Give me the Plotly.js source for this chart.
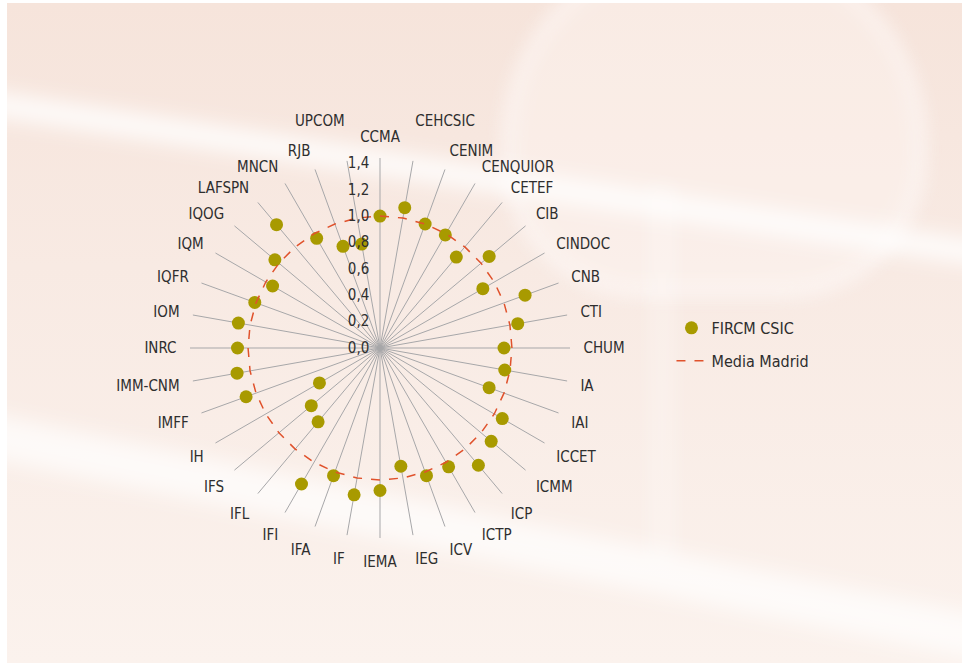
<!DOCTYPE html>
<html>
<head>
<meta charset="utf-8">
<script src="https://cdn.plot.ly/plotly-3.0.1.min.js"></script>
<style>
  html, body { margin:0; padding:0; background:#ffffff; }
  #wrap { position:relative; width:962px; height:663px; overflow:hidden; background:#ffffff; }
  #bg { position:absolute; left:7px; top:3px; right:0; bottom:0; overflow:hidden;
        background: linear-gradient(180deg, #f6e4db 0%, #f8eae3 40%, #fbf2ed 100%); }
  .streak { position:absolute; background:rgba(255,255,255,0.85); filter:blur(10px); transform-origin:0 0; }
  #dome { position:absolute; left:495px; top:-60px; width:400px; height:330px;
          border-radius:200px 200px 140px 140px; border:12px solid rgba(255,255,255,0.45);
          background:rgba(255,250,247,0.35); filter:blur(9px); }
  #column { position:absolute; left:640px; top:180px; width:30px; height:380px;
          background:rgba(255,255,255,0.22); filter:blur(8px); }
  #chart { position:absolute; left:0; top:0; width:962px; height:663px; }
</style>
</head>
<body>
<div id="wrap">
  <div id="bg">
    <div id="dome"></div>
    <div id="column"></div>
    <div class="streak" style="left:-20px; top:88px; width:1050px; height:24px; transform:rotate(8.6deg);"></div>
    <div class="streak" style="left:-20px; top:410px; width:1060px; height:44px; transform:rotate(11.5deg); background:rgba(255,255,255,0.7);"></div>
  </div>
  <div id="chart"></div>
</div>
<script>
const categories = ['CCMA','CEHCSIC','CENIM','CENQUIOR','CETEF','CIB','CINDOC','CNB','CTI','CHUM',
  'IA','IAI','ICCET','ICMM','ICP','ICTP','ICV','IEG','IEMA','IF','IFA','IFI','IFL','IFS','IH',
  'IMFF','IMM-CNM','INRC','IOM','IQFR','IQM','IQOG','LAFSPN','MNCN','RJB','UPCOM'];
const fircmValues = [1.00,1.08,1.00,0.99,0.90,1.08,0.90,1.17,1.06,0.94,
  0.96,0.88,1.07,1.10,1.16,1.04,1.03,0.91,1.08,1.13,1.03,1.19,0.73,0.68,0.53,
  1.08,1.10,1.08,1.09,1.01,0.94,1.04,1.22,0.96,0.82,0.80];
const mediaMadrid = categories.map(() => 1.0);
const radialTicks = [0,0.2,0.4,0.6,0.8,1.0,1.2,1.4];
// labels near the top get a blank trailing line so they sit higher, as in the original
const raisedLabels = ['CEHCSIC','UPCOM'];
const tickLabels = categories.map(c => raisedLabels.includes(c) ? c + '<br> ' : c);

const FONT = 'Liberation Sans Narrow, DejaVu Sans Condensed, sans-serif';

const traces = [
  {
    type:'scatterpolar', mode:'markers', name:'FIRCM CSIC',
    theta: categories, r: fircmValues,
    marker:{color:'#a89a00', size:13},
    legendgroup:'a', hoverinfo:'skip'
  },
  {
    type:'scatterpolar', mode:'lines', name:'Media Madrid',
    theta: categories.concat([categories[0]]), r: mediaMadrid.concat([mediaMadrid[0]]),
    line:{color:'#e0522c', width:1.5, dash:'dash'},
    legendgroup:'b', hoverinfo:'skip'
  }
];

const layout = {
  width:962, height:663,
  margin:{l:0, r:0, t:0, b:0},
  paper_bgcolor:'rgba(0,0,0,0)',
  plot_bgcolor:'rgba(0,0,0,0)',
  separators:',.',
  font:{family:FONT, size:15, color:'#2e2e2e'},
  showlegend:true,
  legend:{x:0.698, y:0.531, xanchor:'left', yanchor:'top', bgcolor:'rgba(0,0,0,0)',
          font:{family:FONT, size:16, color:'#2e2e2e'}, traceorder:'grouped', tracegroupgap:9},
  polar:{
    domain:{x:[190/962, 570/962], y:[1-538/663, 1-158/663]},
    bgcolor:'rgba(0,0,0,0)',
    angularaxis:{
      type:'category', categoryarray:categories, direction:'clockwise', rotation:90,
      tickmode:'array', tickvals:categories, ticktext:tickLabels,
      showgrid:true, gridcolor:'#a7a7a9', gridwidth:1,
      showline:false, ticks:'outside', ticklen:10, tickcolor:'rgba(0,0,0,0)',
      tickfont:{family:FONT, size:15, color:'#2e2e2e'}
    },
    radialaxis:{
      range:[0,1.44], angle:90, side:'counterclockwise', tickangle:90,
      showgrid:false, showline:false, ticks:'outside', ticklen:5, tickcolor:'rgba(0,0,0,0)',
      tickvals:radialTicks, tickformat:'.1f',
      tickfont:{family:FONT, size:15, color:'#2e2e2e'}
    }
  }
};

Plotly.newPlot('chart', traces, layout, {displayModeBar:false, staticPlot:true});
</script>
</body>
</html>
